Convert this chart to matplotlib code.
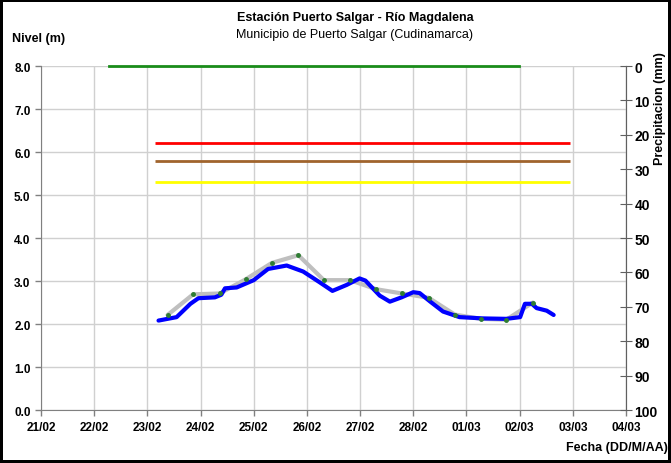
import matplotlib.pyplot as plt
import numpy as np

plt.rcParams['font.family'] = ['Liberation Sans', 'DejaVu Sans']

# dates as day offsets from 21/02
day_labels = ['21/02', '22/02', '23/02', '24/02', '25/02', '26/02',
              '27/02', '28/02', '01/03', '02/03', '03/03', '04/03']

# observed level (blue)
obs_day = [2.21, 2.55, 2.81, 2.96, 3.27, 3.39, 3.46, 3.68, 4.00, 4.27, 4.62,
           4.93, 5.24, 5.48, 5.75, 5.99, 6.10, 6.37, 6.56, 6.78, 7.00, 7.12,
           7.32, 7.56, 7.87, 8.31, 8.75, 9.01, 9.10, 9.23, 9.32, 9.51, 9.64]
obs_lvl = [2.08, 2.16, 2.47, 2.60, 2.62, 2.68, 2.83, 2.85, 3.02, 3.28, 3.36,
           3.22, 2.97, 2.77, 2.91, 3.06, 3.01, 2.66, 2.52, 2.62, 2.74, 2.72,
           2.52, 2.29, 2.16, 2.13, 2.12, 2.16, 2.47, 2.47, 2.37, 2.31, 2.21]

# readings (grey line with green dots)
rd_day = [2.38, 2.86, 3.36, 3.85, 4.34, 4.84, 5.32, 5.81, 6.30, 6.79, 7.29,
          7.78, 8.27, 8.75, 9.25]
rd_lvl = [2.21, 2.69, 2.71, 3.04, 3.42, 3.60, 3.02, 3.02, 2.81, 2.71, 2.61,
          2.22, 2.12, 2.10, 2.50]

# alert thresholds
thr_span = [2.15, 9.95]
thr_red = 6.2
thr_brown = 5.8
thr_yellow = 5.3

# precipitation (mm)
pr_day = [1.27, 8.98]
pr_mm = [0, 0]

fig = plt.figure(figsize=(6.71, 4.64), dpi=100, linewidth=3, edgecolor='black')
ax = fig.add_axes([0.0611, 0.1142, 0.8718, 0.7414])

ax.set_xticks(np.arange(len(day_labels)))
ax.set_xlim(0, len(day_labels) - 1)
ax.set_ylim(0, 8)
ax.set_xticklabels(day_labels, fontsize=8.5, fontweight='bold')
ax.set_yticks(np.arange(0, 8.1, 1))
ax.set_yticklabels([f'{v:.1f}' for v in np.arange(0, 8.1, 1)], fontsize=8.5, fontweight='bold')
ax.grid(True, color='#d0d0d0', linewidth=1)
ax.tick_params(axis='both', colors='#808080', labelcolor='black', length=4, width=1)
ax.tick_params(axis='x', pad=4)
ax.spines['top'].set_visible(False)
for s in ['left', 'bottom', 'right']:
    ax.spines[s].set_color('#808080')

ax.hlines(thr_red, *thr_span, color='#ff0000', linewidth=2, zorder=3)
ax.hlines(thr_brown, *thr_span, color='#a0642d', linewidth=2, zorder=3)
ax.hlines(thr_yellow, *thr_span, color='#ffff00', linewidth=2, zorder=3)

ax.plot(rd_day, rd_lvl, color='#bfbfbf', linewidth=3, zorder=4,
        solid_joinstyle='round', solid_capstyle='round')
ax.plot(obs_day, obs_lvl, color='#0000ff', linewidth=3, zorder=5,
        solid_joinstyle='round', solid_capstyle='round')
ax.plot(rd_day, rd_lvl, linestyle='none', marker='o', markersize=2.5,
        color='#2e7d32', zorder=6)

ax2 = ax.twinx()
ax2.set_ylim(100, 0)
ax2.set_yticks(np.arange(0, 101, 10))
ax2.set_yticklabels([str(v) for v in range(0, 101, 10)], fontsize=10, fontweight='bold')
ax2.tick_params(axis='y', direction='inout', length=8, colors='#606060',
                labelcolor='black', pad=2)
ax2.spines['right'].set_color('#606060')
for s in ['top', 'left', 'bottom']:
    ax2.spines[s].set_visible(False)
ax2.plot(pr_day, pr_mm, color='#1a8c1a', linewidth=2, clip_on=False, zorder=3)

fig.text(0.529, 0.962, 'Estación Puerto Salgar - Río Magdalena', ha='center',
         va='center', fontsize=9, fontweight='bold')
fig.text(0.529, 0.925, 'Municipio de Puerto Salgar (Cudinamarca)', ha='center',
         va='center', fontsize=9)
fig.text(0.018, 0.915, 'Nivel (m)', ha='left', va='center', fontsize=9,
         fontweight='bold')
fig.text(0.995, 0.035, 'Fecha (DD/M/AA)', ha='right', va='center', fontsize=9,
         fontweight='bold')
fig.text(0.984, 0.765, 'Precipitacion (mm)', ha='center', va='center',
         rotation=90, fontsize=9, fontweight='bold')

fig.savefig('out.png', dpi=100)
